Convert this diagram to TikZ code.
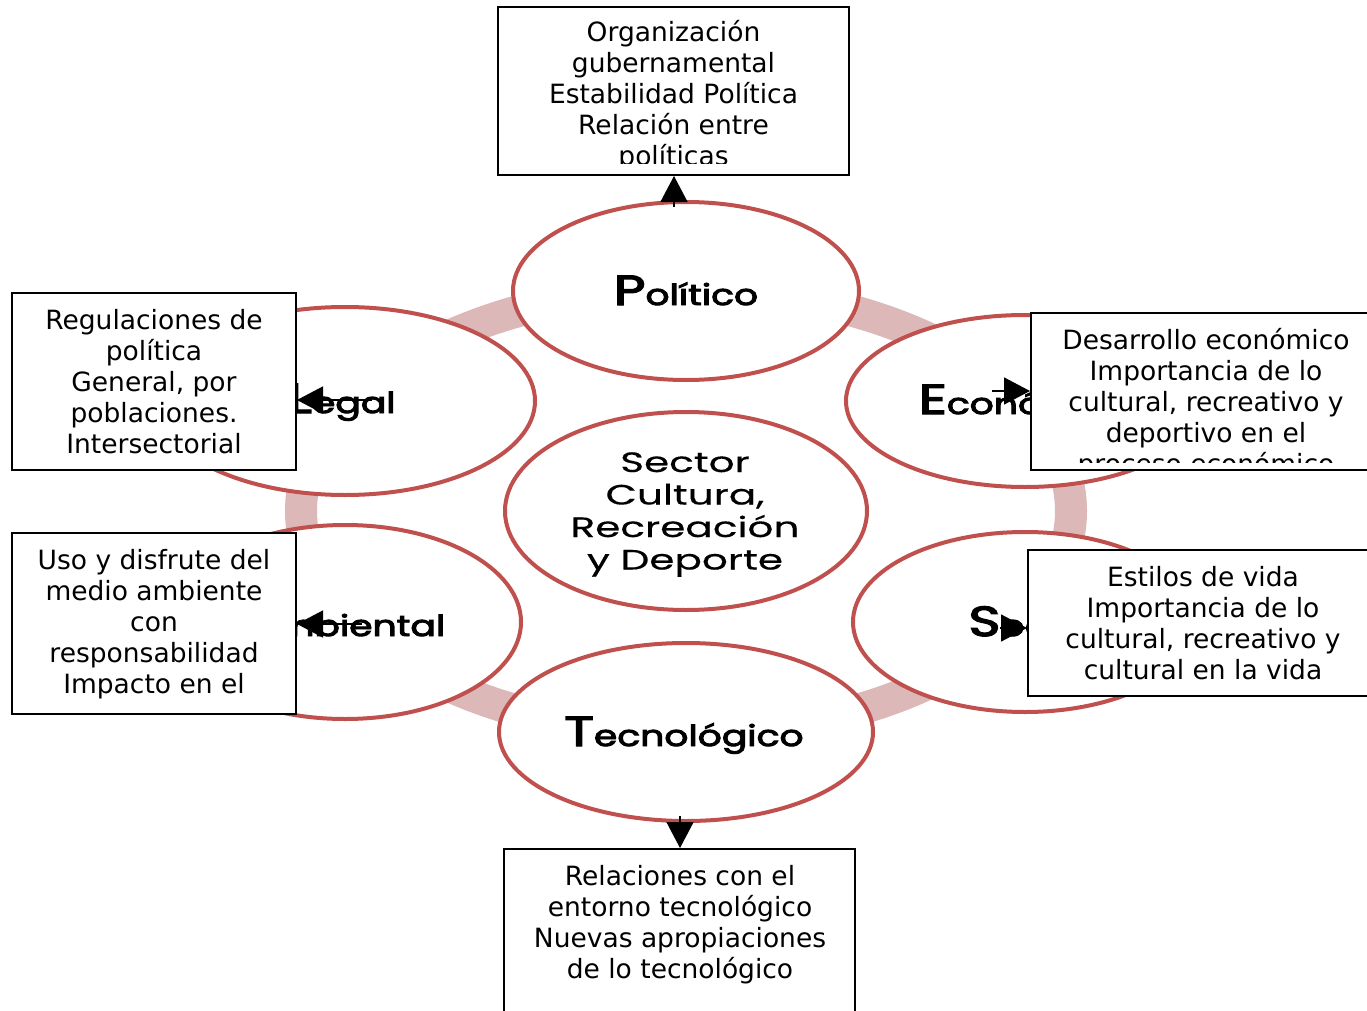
\documentclass[tikz,border=0pt]{standalone}
\usepackage{fontspec}
\setmainfont{DejaVu Sans}
\newfontfamily\gfont{Poppins}[FakeBold=0.3]
\newfontfamily\glfont{Poppins}[FakeBold=3]
\usetikzlibrary{shapes.geometric,arrows.meta}
\definecolor{ered}{HTML}{C0504D}
\definecolor{epink}{HTML}{DDB8B8}
\newcommand\glab[3][1.3]{\scalebox{#1}[1]{\glfont\fontsize{42}{42}\selectfont #2\fontsize{29}{29}\selectfont #3}}
\newcommand\txtlines[1]{\begin{tabular}[t]{@{}c@{}}#1\end{tabular}}
\tikzset{
  oval/.style={ellipse, draw=ered, line width=4pt, fill=white, inner sep=0pt},
  infobox/.style={draw=black, line width=2pt, inner sep=0pt},
  infotext/.style={anchor=base, inner sep=0pt, font=\fontsize{26.5}{31}\selectfont},
  lbl/.style={anchor=base, inner sep=0pt},
  arr/.style={-{Triangle[length=26pt,width=27pt]}, line width=1.5pt},
}
\begin{document}
\begin{tikzpicture}[x=1pt,y=-1pt]
\useasboundingbox (0,0) rectangle (1367,1011);
\clip (0,0) rectangle (1367,1011);
\fill[white] (0,0) rectangle (1367,1011);
% ring behind the ellipses
\draw[epink, line width=32pt] (686,511) ellipse [x radius=385pt, y radius=222pt];
% ellipses
\node[oval, minimum width=346pt, minimum height=178pt] (pol) at (686,291) {};
\node[oval, minimum width=380pt, minimum height=188pt] (leg) at (345,401) {};
\node[oval, minimum width=352pt, minimum height=194pt] (amb) at (345,622) {};
\node[oval, minimum width=358pt, minimum height=172pt] (eco) at (1025,401) {};
\node[oval, minimum width=344pt, minimum height=180pt] (soc) at (1025,622) {};
\node[oval, minimum width=374pt, minimum height=178pt] (tec) at (686,732) {};
\node[oval, minimum width=362pt, minimum height=198pt] (cen) at (686,511) {};
% ellipse labels
\node[lbl] (lpol) at (686,305) {\glab{P}{olítico}};
\node[lbl] (lleg) at (342,413) {\glab{L}{egal}};
\node[lbl] (lamb) at (342,636) {\glab{A}{mbiental}};
\node[lbl] (leco) at (1028,414) {\glab{E}{conómico}};
\node[lbl] (lsoc) at (1030,636) {\glab{S}{ocial}};
\node[lbl] (ltec) at (684,746) {\glab{T}{ecnológico}};
\node[lbl] (lcen) at (685,472) {\scalebox{1.45}[1]{\gfont\fontsize{28}{32.5}\selectfont\txtlines{Sector\\Cultura,\\Recreación\\y Deporte}}};
% boxes
\node[infobox, fill=white, minimum width=351pt, minimum height=168pt] (btop) at (673.5,91) {};
\node[infobox, fill=white, minimum width=284pt, minimum height=177pt] (bleg) at (154,381.5) {};
\node[infobox, fill=white, minimum width=284pt, minimum height=181pt] (bamb) at (154,623.5) {};
\node[infobox, fill=white, minimum width=354pt, minimum height=157pt] (beco) at (1208,391.5) {};
\node[infobox, fill=white, minimum width=357pt, minimum height=146pt] (bsoc) at (1206.5,623) {};
\node[infobox, fill=white, minimum width=351pt, minimum height=176pt] (btec) at (679.5,937) {};
% box texts
\begin{scope}
\clip (498,7) rectangle (849,164);
\node[infotext] (ttop) at (673.5,42) {\txtlines{Organización\\gubernamental\\Estabilidad Política\\Relación entre\\políticas}};
\end{scope}
\node[infotext] (tleg) at (154,329) {\txtlines{Regulaciones de\\política\\General, por\\poblaciones.\\Intersectorial}};
\node[infotext] (tamb) at (154,569) {\txtlines{Uso y disfrute del\\medio ambiente\\con\\responsabilidad\\Impacto en el}};
\begin{scope}
\clip (1031,313) rectangle (1385,462);
\node[infotext] (teco) at (1206,349) {\txtlines{Desarrollo económico\\Importancia de lo\\cultural, recreativo y\\deportivo en el\\proceso económico}};
\end{scope}
\node[infotext] (tsoc) at (1203,586) {\txtlines{Estilos de vida\\Importancia de lo\\cultural, recreativo y\\cultural en la vida}};
\node[infotext] (ttec) at (680,885) {\txtlines{Relaciones con el\\entorno tecnológico\\Nuevas apropiaciones\\de lo tecnológico}};
% arrows
\coordinate (pa) at (674,207);
\coordinate (la) at (372,400);
\coordinate (ma) at (362,624);
\coordinate (ea) at (992,391);
\coordinate (sa) at (1000,628);
\coordinate (ta) at (680,816);
\draw[arr] (pa) -- (pa |- btop.south);
\draw[arr] (la) -- (la -| bleg.east);
\draw[arr] (ma) -- (ma -| bamb.east);
\draw[arr] (ea) -- (ea -| beco.west);
\draw[arr] (sa) -- (sa -| bsoc.west);
\draw[arr] (ta) -- (ta |- btec.north);
\end{tikzpicture}
\end{document}
